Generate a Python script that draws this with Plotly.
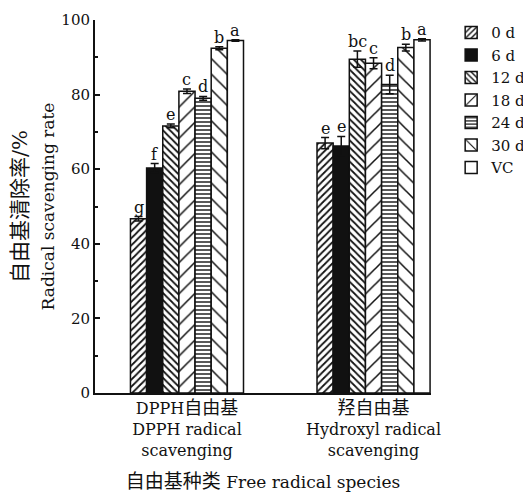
import plotly.graph_objects as go

groups = ["DPPH<span style='font-size:18px'>自由基</span><br>DPPH radical<br>scavenging",
          "<span style='font-size:18px'>羟自由基</span><br>Hydroxyl radical<br>scavenging"]
series = ["0 d", "6 d", "12 d", "18 d", "24 d", "30 d", "VC"]
values = {
    "0 d":  [46.7, 67.0],
    "6 d":  [60.3, 66.2],
    "12 d": [71.6, 89.5],
    "18 d": [80.9, 88.4],
    "24 d": [79.0, 82.7],
    "30 d": [92.4, 92.6],
    "VC":   [94.5, 94.7],
}
errors = {
    "0 d":  [0.6, 1.5],
    "6 d":  [1.2, 2.6],
    "12 d": [0.5, 2.2],
    "18 d": [0.6, 1.5],
    "24 d": [0.5, 2.5],
    "30 d": [0.4, 0.9],
    "VC":   [0.2, 0.3],
}
letters = {
    "0 d":  ["g", "e"],
    "6 d":  ["f", "e"],
    "12 d": ["e", "bc"],
    "18 d": ["c", "c"],
    "24 d": ["d", "d"],
    "30 d": ["b", "b"],
    "VC":   ["a", "a"],
}
yticks = [0, 20, 40, 60, 80, 100]

styles = {
    "0 d":  dict(shape="/", size=5, solidity=0.35, color="white"),
    "6 d":  dict(shape="", size=5, solidity=0.3, color="#111111"),
    "12 d": dict(shape="\\", size=5, solidity=0.35, color="white"),
    "18 d": dict(shape="/", size=11, solidity=0.14, color="white"),
    "24 d": dict(shape="-", size=4, solidity=0.35, color="white"),
    "30 d": dict(shape="\\", size=11, solidity=0.14, color="white"),
    "VC":   dict(shape="", size=5, solidity=0.3, color="white"),
}

FONT = "DejaVu Serif, Noto Sans CJK SC, serif"
xpos = [0, 1]
bargap = 0.394
gw = 1 - bargap
n = len(series)

fig = go.Figure()
annotations = []
for i, s in enumerate(series):
    st = styles[s]
    marker = dict(color=st["color"], line=dict(color="#111111", width=1.5))
    if st["shape"]:
        marker["pattern"] = dict(shape=st["shape"], size=st["size"], solidity=st["solidity"],
                                 fgcolor="#111111", bgcolor="white", fillmode="replace")
    fig.add_trace(go.Bar(
        name=s, x=xpos, y=values[s],
        error_y=dict(type="data", array=errors[s], visible=True, color="#111111",
                     thickness=1.5, width=4),
        marker=marker,
    ))
    for g in range(2):
        xc = xpos[g] - gw / 2 + (i + 0.5) * gw / n
        annotations.append(dict(
            x=xc, y=values[s][g] + errors[s][g], text=letters[s][g],
            showarrow=False, yanchor="bottom", yshift=-2,
            font=dict(family=FONT, size=16, color="#111111"),
        ))

# page body adds an 8px offset, so the figure is 8px smaller on each axis
fig.update_layout(
    width=523, height=484,
    margin=dict(l=87, r=100, t=12, b=99, autoexpand=False),
    paper_bgcolor="white", plot_bgcolor="white",
    barmode="group", bargap=bargap, bargroupgap=0,
    font=dict(family=FONT, size=16, color="#111111"),
    showlegend=True,
    legend=dict(x=1.06, y=1.01, xanchor="left", yanchor="top",
                font=dict(family=FONT, size=15, color="#111111"),
                bgcolor="rgba(0,0,0,0)", itemwidth=30, tracegroupgap=0),
    annotations=annotations,
)
fig.update_xaxes(
    tickvals=xpos, ticktext=groups, range=[-0.493, 1.308], automargin=False,
    showline=True, linecolor="#111111", linewidth=2, ticks="", showgrid=False,
    zeroline=False, tickfont=dict(family=FONT, size=16),
    title=dict(text="<span style='font-size:19px'>自由基种类</span> Free radical species",
               font=dict(family=FONT, size=17), standoff=18),
)
fig.update_yaxes(
    range=[0, 100], tickvals=yticks, showline=True, linecolor="#111111", linewidth=2,
    automargin=False,
    ticks="inside", ticklen=5, tickwidth=1.5, tickcolor="#111111",
    minor=dict(ticks="inside", ticklen=3, tickwidth=1.5, tickcolor="#111111", dtick=10, showgrid=False),
    showgrid=False, zeroline=False, tickfont=dict(family=FONT, size=15),
    title=dict(text="自由基清除率/%<br><span style='font-size:17px'>Radical scavenging rate</span>",
               font=dict(family=FONT, size=21), standoff=10),
)
fig.write_html("out.html")
